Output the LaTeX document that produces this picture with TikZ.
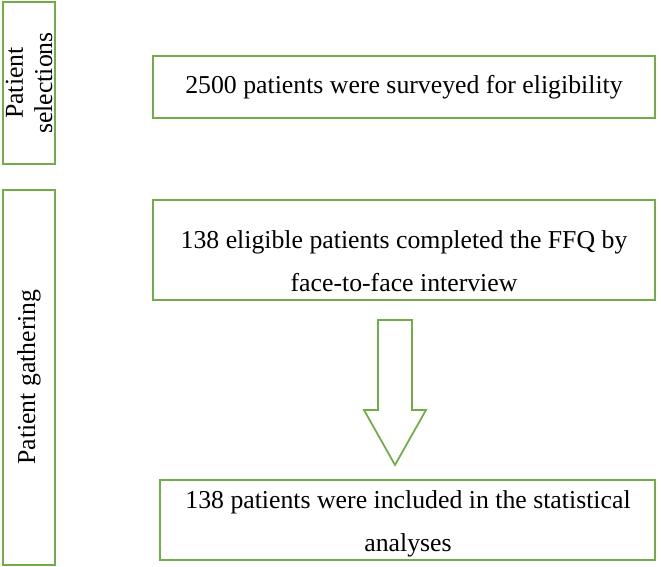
\documentclass[tikz,border=0pt]{standalone}
\usepackage{fontspec}
\setmainfont{Liberation Serif}
\usepackage{xcolor}
\definecolor{boxgreen}{HTML}{70AD47}
\tikzset{
  stage/.style={draw=boxgreen, line width=1.5pt},
  label/.style={align=center, font=\fontsize{22}{32}\selectfont},
}
\begin{document}
\begin{tikzpicture}[x=0.03cm,y=-0.03cm]
	\useasboundingbox (0,0) rectangle (661,567);
	% side labels
	\draw [stage] (3,2) rectangle (55,164);
	\node [label, rotate=90, font=\fontsize{22}{25}\selectfont] (sel) at (29,83) {Patient\\selections};
	\draw [stage] (3,190) rectangle (55,565);
	\node [label, rotate=90] (gat) at (29,377) {Patient gathering};
	% boxes
	\draw [stage] (153,56) rectangle (655,118);
	\node [label] (surv) at (404,87) {2500 patients were surveyed for eligibility};
	\draw [stage] (153,200) rectangle (655,300);
	\node [label, font=\fontsize{22}{37}\selectfont] (ffq) at (404,261) {138 eligible patients completed the FFQ by\\face-to-face interview};
	\draw [stage] (160,480) rectangle (655,560);
	\node [label, font=\fontsize{22}{37}\selectfont] (incl) at (408,524) {138 patients were included in the statistical\\analyses};
	% block arrow
	\draw [boxgreen, line width=1.5pt, line join=miter]
		(378,320) -- (412,320) -- (412,410) -- (426,410) -- (395,465)
		-- (364,410) -- (378,410) -- cycle;
\end{tikzpicture}
\end{document}
